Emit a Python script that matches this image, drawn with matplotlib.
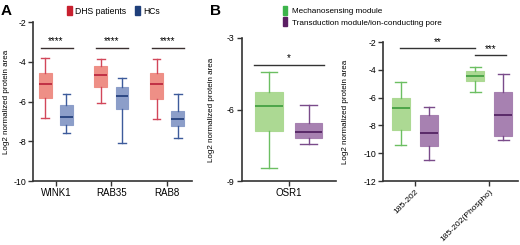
import matplotlib
matplotlib.use('Agg')
import matplotlib.pyplot as plt
from matplotlib.patches import Patch

plt.rcParams['font.family'] = ['Liberation Sans', 'DejaVu Sans']
plt.rcParams['font.size'] = 7
plt.rcParams['axes.unicode_minus'] = False

# Panel A: proteins, DHS patients vs HCs (whislo, q1, med, q3, whishi)
genes_a = ['WINK1', 'RAB35', 'RAB8']
dhs_stats = [(-6.81, -5.82, -5.11, -4.57, -3.82),
             (-6.05, -5.29, -4.67, -4.20, -3.85),
             (-6.89, -5.85, -5.11, -4.57, -3.85)]
hc_stats = [(-7.58, -7.18, -6.76, -6.18, -5.63),
            (-8.07, -6.37, -5.70, -5.26, -4.84),
            (-7.83, -7.23, -6.87, -6.49, -5.61)]
sig_a = ['****', '****', '****']
sig_a_y = -3.31

# Panel B left: OSR1
genes_b1 = ['OSR1']
mech_b1 = [(-8.47, -6.92, -5.87, -5.27, -4.43)]
trans_b1 = [(-7.46, -7.21, -6.95, -6.56, -5.81)]

# Panel B right: peptide 185-202
genes_b2 = ['185-202', '185-202(Phospho)']
mech_b2 = [(-9.37, -8.34, -6.74, -6.02, -4.85),
           (-5.61, -4.81, -4.46, -4.06, -3.79)]
trans_b2 = [(-10.49, -9.46, -8.53, -7.22, -6.64),
            (-9.01, -8.79, -7.22, -5.61, -4.27)]

red = dict(fill='#ee8f86', line='#d2475a', med='#b8203a', key='#c8202f')
blue = dict(fill='#8c9ec9', line='#3d5b9b', med='#1d3a78', key='#1f3f7a')
green = dict(fill='#acd993', line='#6cbf62', med='#3c9c3c', key='#3cb44b')
purple = dict(fill='#a781b1', line='#7a4b8a', med='#4c1c5c', key='#5b1f63')
spine_col = '#333333'


def stats_list(vals):
    return [dict(whislo=a, q1=b, med=c, q3=d, whishi=e) for a, b, c, d, e in vals]


def draw_boxes(ax, vals, pos, width, col):
    ax.bxp(stats_list(vals), positions=pos, widths=width, showfliers=False,
           patch_artist=True, manage_ticks=False,
           boxprops=dict(facecolor=col['fill'], edgecolor=col['fill'], linewidth=0.8),
           medianprops=dict(color=col['med'], linewidth=1.2),
           whiskerprops=dict(color=col['line'], linewidth=1.0),
           capprops=dict(color=col['line'], linewidth=1.0),
           capwidths=width * 0.6)


def style_ax(ax, label_x):
    for s in ['top', 'right']:
        ax.spines[s].set_visible(False)
    for s in ['left', 'bottom']:
        ax.spines[s].set_color(spine_col)
        ax.spines[s].set_linewidth(1.2)
    ax.tick_params(length=3.5, width=1, color=spine_col, pad=1.5)
    ax.tick_params(axis='y', labelsize=6.3)
    ax.set_ylabel('Log2 normalized protein area', fontsize=5.8)
    ax.yaxis.set_label_coords(label_x, 0.5)


fig = plt.figure(figsize=(5.2, 2.45), dpi=100)

# ---- Panel A ----
axa = fig.add_axes([0.0635, 0.261, 0.306, 0.649])
xa = list(range(len(genes_a)))
off_a, w_a = 0.19, 0.23
draw_boxes(axa, dhs_stats, [x - off_a for x in xa], w_a, red)
draw_boxes(axa, hc_stats, [x + off_a for x in xa], w_a, blue)
for x, s in zip(xa, sig_a):
    axa.plot([x - 0.27, x + 0.3], [sig_a_y, sig_a_y], color='#3a3030', lw=1.0)
    axa.text(x, sig_a_y + 0.1, s, ha='center', va='bottom', fontsize=7)
axa.set_xlim(-0.41, 2.45)
axa.set_ylim(-10, -2)
axa.set_yticks([-10, -8, -6, -4, -2])
axa.set_xticks(xa)
axa.set_xticklabels(genes_a)
style_ax(axa, -0.145)

# ---- Panel B left ----
axb1 = fig.add_axes([0.465, 0.261, 0.181, 0.584])
off_b1, w_b1 = 0.21, 0.29
draw_boxes(axb1, mech_b1, [-off_b1], w_b1, green)
draw_boxes(axb1, trans_b1, [off_b1], w_b1, purple)
axb1.plot([-0.37, 0.37], [-4.14, -4.14], color='#333333', lw=1.0)
axb1.text(0, -4.05, '*', ha='center', va='bottom', fontsize=7)
axb1.set_xlim(-0.5, 0.5)
axb1.set_ylim(-9, -3)
axb1.set_yticks([-9, -6, -3])
axb1.set_xticks([0])
axb1.set_xticklabels(genes_b1)
style_ax(axb1, -0.28)

# ---- Panel B right ----
axb2 = fig.add_axes([0.7365, 0.261, 0.26, 0.567])
xb = list(range(len(genes_b2)))
off_b2, w_b2 = 0.19, 0.245
draw_boxes(axb2, mech_b2, [x - off_b2 for x in xb], w_b2, green)
draw_boxes(axb2, trans_b2, [x + off_b2 for x in xb], w_b2, purple)
axb2.plot([-0.2, 0.81], [-2.43, -2.43], color='#333333', lw=1.0)
axb2.text(0.3, -2.35, '**', ha='center', va='bottom', fontsize=7)
axb2.plot([0.81, 1.23], [-2.91, -2.91], color='#333333', lw=1.0)
axb2.text(1.02, -2.83, '***', ha='center', va='bottom', fontsize=7)
axb2.set_xlim(-0.43, 1.39)
axb2.set_ylim(-12, -2)
axb2.set_yticks([-12, -10, -8, -6, -4, -2])
axb2.set_xticks(xb)
axb2.set_xticklabels(genes_b2, rotation=45, ha='right', rotation_mode='anchor',
                     fontsize=6.1)
axb2.tick_params(axis='x', pad=1)
style_ax(axb2, -0.248)

# ---- legends and panel letters ----
fig.legend(handles=[Patch(color=red['key'], label='DHS patients'),
                    Patch(color=blue['key'], label='HCs')],
           loc='upper left', bbox_to_anchor=(0.117, 1.0), ncol=2, frameon=False,
           handlelength=0.55, handleheight=1.3, handletextpad=0.35,
           columnspacing=1.1, fontsize=6.2, borderaxespad=0.3)
fig.legend(handles=[Patch(color=green['key'], label='Mechanosensing module'),
                    Patch(color=purple['key'], label='Transduction module/ion-conducting pore')],
           loc='upper left', bbox_to_anchor=(0.533, 1.0), ncol=1, frameon=False,
           handlelength=0.55, handleheight=1.3, handletextpad=0.5,
           labelspacing=0.3, fontsize=5.9, borderaxespad=0.3)
fig.text(0.002, 0.985, 'A', fontsize=11, fontweight='bold', va='top')
fig.text(0.403, 0.985, 'B', fontsize=11, fontweight='bold', va='top')

fig.savefig('out.png', dpi=100)
